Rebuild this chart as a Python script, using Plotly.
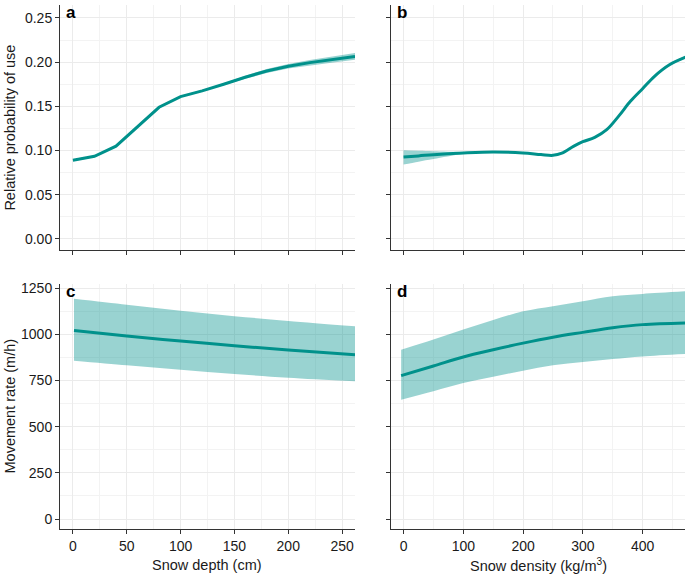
import plotly.graph_objects as go

# ---- data ----
a_x = [0, 20, 40, 60, 80, 100, 120, 140, 160, 180, 200, 220, 240, 262]
a_y = [0.089, 0.0935, 0.105, 0.127, 0.149, 0.161, 0.1675, 0.175, 0.183, 0.190, 0.1955, 0.1995, 0.203, 0.2065]
a_lo = [0.088, 0.0925, 0.104, 0.126, 0.148, 0.160, 0.1665, 0.1738, 0.1812, 0.1878, 0.193, 0.1965, 0.1995, 0.2027]
a_hi = [0.090, 0.0945, 0.106, 0.128, 0.150, 0.162, 0.1685, 0.1762, 0.1848, 0.1922, 0.198, 0.2025, 0.2065, 0.2103]

b_x = [0, 25, 50, 100, 150, 200, 230, 250, 265, 285, 300, 320, 340, 360, 380, 400, 420, 445, 475]
b_y = [0.0928, 0.094, 0.0954, 0.0973, 0.0984, 0.0973, 0.0955, 0.0946, 0.097, 0.105, 0.110, 0.115, 0.1237, 0.139, 0.156, 0.170, 0.184, 0.197, 0.2065]
b_lo = [0.0842, 0.0875, 0.0905, 0.0962, 0.0977, 0.0966, 0.0948, 0.0939, 0.0963, 0.1043, 0.1093, 0.1143, 0.1228, 0.138, 0.155, 0.169, 0.183, 0.1958, 0.2052]
b_hi = [0.1003, 0.0998, 0.0993, 0.0985, 0.0991, 0.098, 0.0962, 0.0953, 0.0977, 0.1057, 0.1107, 0.1157, 0.1246, 0.140, 0.157, 0.171, 0.185, 0.1982, 0.2078]

c_x = [1, 50, 100, 150, 200, 262]
c_y = [1020, 990, 963, 938, 915, 889]
c_lo = [857, 832, 808, 785, 765, 745]
c_hi = [1192, 1160, 1127, 1098, 1072, 1043]

d_x = [-4, 50, 100, 150, 200, 250, 300, 350, 400, 471]
d_y = [776, 828, 877, 916, 952, 984, 1010, 1035, 1052, 1061]
d_lo = [646, 692, 736, 770, 803, 832, 850, 866, 880, 893]
d_hi = [916, 971, 1025, 1077, 1124, 1152, 1178, 1205, 1218, 1232]

panel_labels = ["a", "b", "c", "d"]
y_titles = ["Relative probability of use", "Movement rate (m/h)"]
x_titles = ["Snow depth (cm)", "Snow density (kg/m<sup>3</sup>)"]

LINE = "#00918b"
BAND = "rgba(0,145,139,0.40)"

fig = go.Figure()

panels = [
    (a_x, a_y, a_lo, a_hi, "x", "y", "linear"),
    (b_x, b_y, b_lo, b_hi, "x2", "y2", "spline"),
    (c_x, c_y, c_lo, c_hi, "x3", "y3", "spline"),
    (d_x, d_y, d_lo, d_hi, "x4", "y4", "spline"),
]
for xs, ys, lo, hi, xa, ya, shape in panels:
    fig.add_trace(go.Scatter(x=xs, y=lo, mode="lines", line=dict(width=0, shape=shape),
                             xaxis=xa, yaxis=ya, showlegend=False, hoverinfo="skip"))
    fig.add_trace(go.Scatter(x=xs, y=hi, mode="lines", line=dict(width=0, shape=shape),
                             fill="tonexty", fillcolor=BAND,
                             xaxis=xa, yaxis=ya, showlegend=False, hoverinfo="skip"))
    fig.add_trace(go.Scatter(x=xs, y=ys, mode="lines", line=dict(color=LINE, width=3, shape=shape),
                             xaxis=xa, yaxis=ya, showlegend=False))

FONT = "Liberation Sans, Arial, sans-serif"
GRID = "#EBEBEB"
GRID_MINOR = "#F3F3F3"


def ax(domain, rng, dtick, minor, labels, anchor):
    return dict(
        domain=domain, range=rng, dtick=dtick, tick0=0, anchor=anchor, automargin=False,
        showgrid=True, gridcolor=GRID, gridwidth=1,
        minor=dict(dtick=minor, tick0=0, showgrid=True, gridcolor=GRID_MINOR, gridwidth=0.8),
        zeroline=False, showline=True, linecolor="#333333", linewidth=1,
        ticks="outside", ticklen=4, tickcolor="#333333", tickwidth=1,
        showticklabels=labels, tickfont=dict(size=14, color="#1a1a1a", family=FONT),
    )


xl = [0, 0.472]
xr = [0.5296, 1.0]
yt = [0.5324, 1.0]
yb = [0.0, 0.4676]
xr_left = [-12, 262]
xr_right = [-21, 471]
yr_top = [-0.0125, 0.2647]
yr_bot = [-54, 1272]

fig.update_layout(
    width=685, height=578,
    margin=dict(l=60, r=0, t=5, b=49, autoexpand=False),
    plot_bgcolor="white", paper_bgcolor="white",
    font=dict(family=FONT, color="#1a1a1a"),
    xaxis=ax(xl, xr_left, 50, 25, False, "y"),
    yaxis=ax(yt, yr_top, 0.05, 0.025, True, "x"),
    xaxis2=ax(xr, xr_right, 100, 50, False, "y2"),
    yaxis2=ax(yt, yr_top, 0.05, 0.025, False, "x2"),
    xaxis3=ax(xl, xr_left, 50, 25, True, "y3"),
    yaxis3=ax(yb, yr_bot, 250, 125, True, "x3"),
    xaxis4=ax(xr, xr_right, 100, 50, True, "y4"),
    yaxis4=ax(yb, yr_bot, 250, 125, False, "x4"),
)
fig.update_layout(yaxis=dict(tickformat=".2f"))

anns = []
for lab, xa, ya in zip(panel_labels, ["x", "x2", "x3", "x4"], ["y", "y2", "y3", "y4"]):
    anns.append(dict(text="<b>" + lab + "</b>", xref=xa + " domain", yref=ya + " domain",
                     x=0.012, y=1.015, xanchor="left", yanchor="top", showarrow=False,
                     font=dict(size=17, color="black", family=FONT)))
anns.append(dict(text=y_titles[0], xref="paper", yref="paper", x=-0.08, y=0.766,
                 textangle=-90, showarrow=False, xanchor="center", yanchor="middle",
                 font=dict(size=14.5, color="#1a1a1a", family=FONT)))
anns.append(dict(text=y_titles[1], xref="paper", yref="paper", x=-0.08, y=0.2338,
                 textangle=-90, showarrow=False, xanchor="center", yanchor="middle",
                 font=dict(size=14.5, color="#1a1a1a", family=FONT)))
anns.append(dict(text=x_titles[0], xref="paper", yref="paper", x=(207 - 60) / 625, y=-0.069,
                 showarrow=False, xanchor="center", yanchor="middle",
                 font=dict(size=14.5, color="#1a1a1a", family=FONT)))
anns.append(dict(text=x_titles[1], xref="paper", yref="paper", x=(538 - 60) / 625, y=-0.069,
                 showarrow=False, xanchor="center", yanchor="middle",
                 font=dict(size=14.5, color="#1a1a1a", family=FONT)))
fig.update_layout(annotations=anns)

fig.write_html("out.html", config={"displayModeBar": False},
               post_script="document.body.style.margin='0px';document.body.style.padding='0px';")
